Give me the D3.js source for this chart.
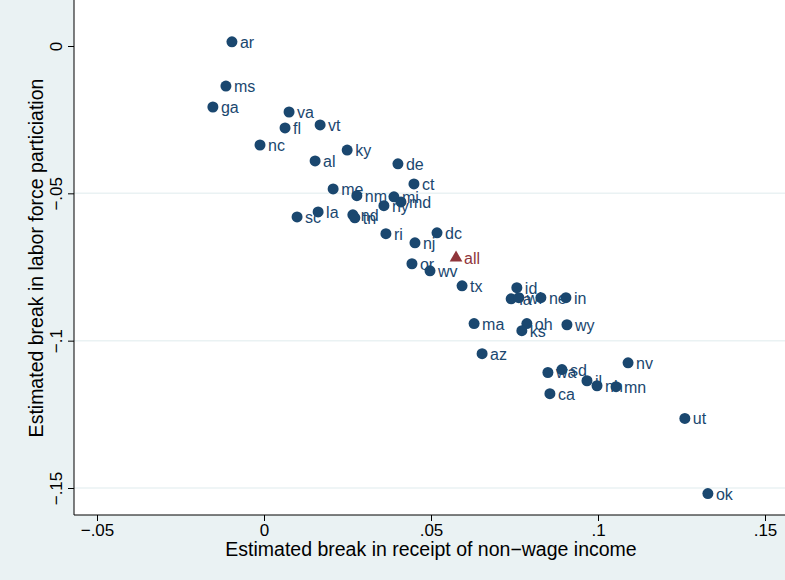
<!DOCTYPE html>
<html><head><meta charset="utf-8">
<script src="https://cdn.jsdelivr.net/npm/d3@7"></script>
<style>body{margin:0;background:#eaf2f3}text{font-family:"Liberation Sans",Arial,sans-serif}</style>
</head><body><svg id="chart" width="785" height="580"></svg>
<script>
const states = ["ar","ms","ga","va","fl","vt","nc","ky","al","de","ct","me","nm","mi","md","ny","la","sc","nd","tn","ri","dc","nj","or","wv","tx","id","ia","wi","ne","in","ma","oh","ks","wy","az","nv","sd","wa","il","nh","mn","ca","ut","ok"];
const nonWage = [-.0096,-.0114,-.0153,.0075,.0063,.0168,-.0012,.0249,.0153,.0401,.0449,.0207,.0278,.0389,.0410,.0359,.0162,.0099,.0266,.0272,.0365,.0518,.0452,.0443,.0497,.0593,.0757,.0740,.0763,.0829,.0904,.0629,.0787,.0772,.0907,.0653,.109,.0892,.085,.0967,.0997,.1054,.0856,.126,.1329];
const laborForce = [.0014,-.0136,-.0207,-.0224,-.0278,-.0268,-.0336,-.0353,-.039,-.040,-.0468,-.0485,-.0508,-.0512,-.0529,-.0542,-.0563,-.058,-.0573,-.0583,-.0637,-.0634,-.0668,-.0739,-.0763,-.0814,-.082,-.0858,-.0854,-.0854,-.0854,-.0942,-.0942,-.0966,-.0946,-.1044,-.1075,-.1098,-.1108,-.1136,-.1153,-.1156,-.118,-.1264,-.1519];
const allPoint = {label: "all", x: .0575, y: -.0719};
const xTicks = [-.05, 0, .05, .1, .15];
const yTicks = [0, -.05, -.1, -.15];
const fmt = v => v === 0 ? "0" : (v < 0 ? "−" : "") + String(Math.abs(v)).replace(/^0/, "");

const svg = d3.select("#chart");
const x = d3.scaleLinear().domain([-.05, .15]).range([97, 765]);
const y = d3.scaleLinear().domain([0, -.15]).range([46, 488]);

// plot region
svg.append("rect").attr("x", 74).attr("y", 0).attr("width", 711).attr("height", 515).attr("fill", "white");

// gridlines
svg.append("g").selectAll("line").data(yTicks.slice(1)).enter().append("line")
    .attr("x1", 74).attr("x2", 785).attr("y1", d => y(d)).attr("y2", d => y(d))
    .attr("stroke", "#eaf2f3").attr("stroke-width", 1.5);

const xAxis = svg.append("g").attr("transform", "translate(0,515)")
    .call(d3.axisBottom(x).tickValues(xTicks).tickFormat(fmt).tickSize(6).tickSizeOuter(0));
xAxis.select(".domain").attr("d", "M74,0H785");
xAxis.selectAll("text").attr("font-size", 17).attr("fill", "black");

const yAxis = svg.append("g").attr("transform", "translate(74,0)")
    .call(d3.axisLeft(y).tickValues(yTicks).tickFormat(fmt).tickSize(6).tickSizeOuter(0));
yAxis.select(".domain").attr("d", "M0,0V515");
yAxis.selectAll("text").attr("font-size", 17).attr("fill", "black")
    .attr("transform", "rotate(-90)").attr("x", 0).attr("y", -12)
    .attr("dy", 0).attr("text-anchor", "middle");

svg.append("text").attr("x", 431).attr("y", 556).attr("text-anchor", "middle")
    .attr("font-size", 19.5).text("Estimated break in receipt of non−wage income");
svg.append("text").attr("transform", "translate(43,258) rotate(-90)").attr("text-anchor", "middle")
    .attr("font-size", 19.5).text("Estimated break in labor force particiation");

const pts = states.map((s, i) => ({s, x: nonWage[i], y: laborForce[i]}));
svg.append("g").selectAll("circle").data(pts).enter().append("circle")
    .attr("cx", d => x(d.x)).attr("cy", d => y(d.y)).attr("r", 5.5).attr("fill", "#1a476f");
svg.append("g").selectAll("text").data(pts).enter().append("text")
    .attr("x", d => x(d.x) + 8).attr("y", d => y(d.y) + 6)
    .attr("font-size", 16).attr("fill", "#1a476f").text(d => d.s);

svg.append("path").attr("d", d3.symbol(d3.symbolTriangle, 70)())
    .attr("transform", `translate(${x(allPoint.x)},${y(allPoint.y)})`).attr("fill", "#90353b");
svg.append("text").attr("x", x(allPoint.x) + 8).attr("y", y(allPoint.y) + 6)
    .attr("font-size", 16).attr("fill", "#90353b").text(allPoint.label);
</script></body></html>
